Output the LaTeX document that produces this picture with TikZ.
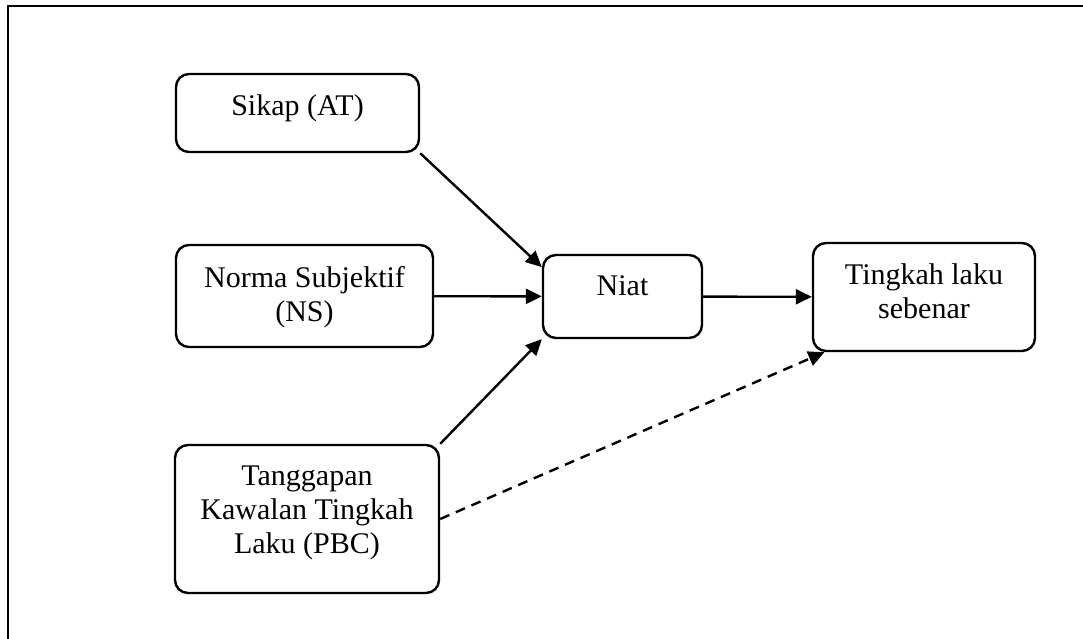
\documentclass[tikz,border=0pt]{standalone}
\usepackage{fontspec}
\setmainfont{Liberation Serif}
\usetikzlibrary{arrows.meta}
\begin{document}
\begin{tikzpicture}[x=1pt,y=-1pt,line width=2.4pt,
	>={Triangle[length=16pt,width=15pt]},
	box/.style={draw,rounded corners=13pt,inner sep=0pt},
	lbl/.style={anchor=north,align=center,inner sep=0pt,yshift=-21pt,
		font=\fontsize{30}{34}\selectfont}]
	
	\useasboundingbox (0,0) rectangle (1083,638);
	\draw (8,6) rectangle (1100,660);
	
	\node [box,minimum width=243pt,minimum height=78pt,
		label={[lbl]north:Sikap (AT)}] (at) at (297.5,113) {};
	\node [box,minimum width=257pt,minimum height=102pt,
		label={[lbl]north:{Norma Subjektif\\(NS)}}] (ns) at (304.5,296) {};
	\node [box,minimum width=264pt,minimum height=148pt,
		label={[lbl]north:{Tanggapan\\Kawalan Tingkah\\Laku (PBC)}}] (pbc) at (307,519) {};
	\node [box,minimum width=159pt,minimum height=83pt,
		label={[lbl]north:Niat}] (niat) at (622.5,296.5) {};
	\node [box,minimum width=222pt,minimum height=108pt,
		label={[lbl]north:{Tingkah laku\\sebenar}}] (tl) at (924,297) {};
	
	\draw [->] (at.south east) -- (niat.160);
	\draw [->] (ns) -- (niat);
	\draw [->] (pbc.north east) -- (niat.south west);
	\draw [->] (niat) -- (tl);
	\draw [->,dash pattern=on 10pt off 7pt] (pbc.east) -- (tl.209);
	
\end{tikzpicture}
\end{document}
